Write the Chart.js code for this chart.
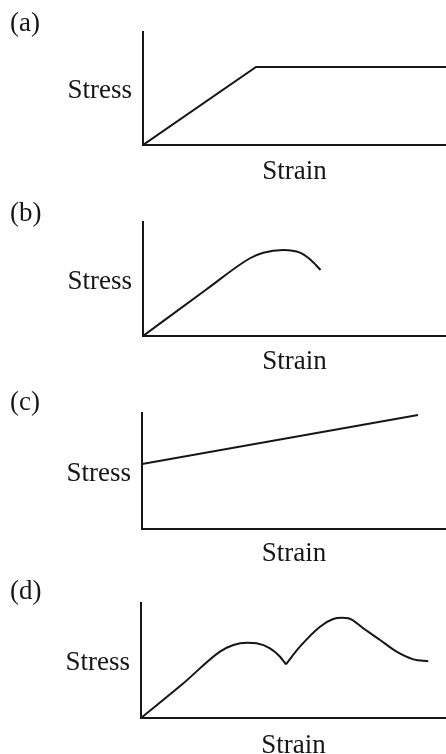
<!DOCTYPE html>
<html>
<head>
<meta charset="utf-8">
<script src="https://cdn.jsdelivr.net/npm/chart.js@4"></script>
<style>
  html, body { margin: 0; padding: 0; background: #fff; }
  body { width: 446px; height: 754px; position: relative; overflow: hidden; }
  .panel { position: absolute; left: 0; width: 446px; }
</style>
</head>
<body>
<div class="panel" style="top:0px;height:190px"><canvas id="ca" width="446" height="190"></canvas></div>
<div class="panel" style="top:190px;height:190px"><canvas id="cb" width="446" height="190"></canvas></div>
<div class="panel" style="top:380px;height:190px"><canvas id="cc" width="446" height="190"></canvas></div>
<div class="panel" style="top:570px;height:184px"><canvas id="cd" width="446" height="184"></canvas></div>
<script>
// ---- data ----
const panelLabels = ['(a)', '(b)', '(c)', '(d)'];
const yAxisLabel = 'Stress';
const xAxisLabel = 'Strain';

// (a) elastic - perfectly plastic
const strainA = [0, 37.3, 100];
const stressA = [0, 69.0, 69.0];

// (b) hardening then softening
const strainB = [0, 21.0, 35.3, 39.7, 46.3, 51.8, 55.1, 58.6];
const stressB = [0, 41.0, 68.2, 73.1, 75.4, 73.1, 67.3, 57.9];

// (c) linear with initial stress
const strainC = [0, 90.8];
const stressC = [56.0, 98.3];

// (d) two peaks with cusp
const strainD1 = [0, 13.9, 25.9, 30.3, 34.7, 37.9, 42.3, 45.6, 47.5];
const stressD1 = [0, 30.2, 57.7, 63.5, 65.5, 65.0, 60.6, 53.3, 46.7];
const strainD2 = [47.5, 52.1, 58.7, 63.0, 65.9, 68.0, 72.9, 78.4, 83.8, 89.3, 94.2];
const stressD2 = [46.7, 62.0, 79.4, 86.1, 87.1, 86.7, 78.0, 67.8, 57.7, 51.0, 49.3];

// ---- styling ----
const INK = '#161616';
const FONT_FAMILY = '"Liberation Serif", "Times New Roman", serif';
const FONT_SIZE = 27;

const panelLabelPlugin = {
  id: 'panelLabel',
  afterDraw(chart, args, opts) {
    const ctx = chart.ctx;
    ctx.save();
    ctx.font = FONT_SIZE + 'px ' + FONT_FAMILY;
    ctx.fillStyle = INK;
    ctx.textAlign = 'left';
    ctx.textBaseline = 'middle';
    ctx.fillText(opts.text, opts.x, opts.y);
    ctx.restore();
  }
};

function toPoints(xs, ys) {
  return xs.map((x, i) => ({ x: x, y: ys[i] }));
}

function makePanel(id, label, series, cfg) {
  const datasets = series.map(s => ({
    data: toPoints(s.x, s.y),
    borderColor: INK,
    borderWidth: 2,
    pointRadius: 0,
    fill: false,
    tension: 0,
    cubicInterpolationMode: s.smooth ? 'monotone' : 'default'
  }));
  return new Chart(document.getElementById(id), {
    type: 'line',
    data: { datasets: datasets },
    plugins: [panelLabelPlugin],
    options: {
      responsive: false,
      animation: false,
      events: [],
      layout: { padding: { top: cfg.top, left: 0, right: 0, bottom: cfg.bottom } },
      plugins: {
        legend: { display: false },
        tooltip: { enabled: false },
        title: { display: false },
        panelLabel: { text: label, x: 10, y: cfg.labelY }
      },
      scales: {
        x: {
          type: 'linear', min: 0, max: 100,
          ticks: { display: false },
          grid: { display: false, drawTicks: false },
          border: { display: true, color: INK, width: 2 },
          title: {
            display: true, text: xAxisLabel, color: INK,
            font: { family: FONT_FAMILY, size: FONT_SIZE, lineHeight: '14px' },
            padding: { top: cfg.titlePad, bottom: 0 }
          }
        },
        y: {
          type: 'linear', min: 0, max: 100,
          afterBuildTicks: s => { s.ticks = [{ value: 47.5 }]; },
          afterFit: s => { s.width = cfg.left; },
          ticks: {
            callback: () => yAxisLabel,
            color: INK, padding: 11,
            font: { family: FONT_FAMILY, size: FONT_SIZE, lineHeight: '18px' }
          },
          grid: { display: false, drawTicks: false },
          border: { display: true, color: INK, width: 2 }
        }
      }
    }
  });
}

makePanel('ca', panelLabels[0], [{ x: strainA, y: stressA, smooth: false }],
  { top: 32, bottom: 11, left: 143, titlePad: 20, labelY: 24 });
makePanel('cb', panelLabels[1], [{ x: strainB, y: stressB, smooth: true }],
  { top: 32, bottom: 11, left: 143, titlePad: 19, labelY: 24 });
makePanel('cc', panelLabels[2], [{ x: strainC, y: stressC, smooth: false }],
  { top: 33, bottom: 9, left: 142, titlePad: 18, labelY: 23 });
makePanel('cd', panelLabels[3], [
    { x: strainD1, y: stressD1, smooth: true },
    { x: strainD2, y: stressD2, smooth: true }
  ],
  { top: 33, bottom: 1, left: 141, titlePad: 21, labelY: 22 });
</script>
</body>
</html>
